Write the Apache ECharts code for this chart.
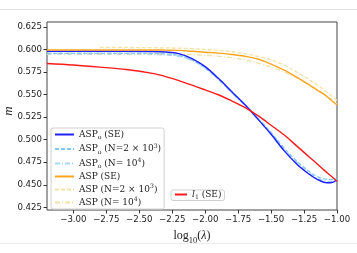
<!DOCTYPE html>
<html><head><meta charset="utf-8">
<script src="https://cdn.jsdelivr.net/npm/echarts@6/dist/echarts.min.js"></script>
<style>html,body{margin:0;padding:0;background:#fff}#c{width:357px;height:253px}</style>
</head><body><div id="c"></div>
<script>
const xs = [-3.2,-3.0,-2.8,-2.6,-2.4,-2.3,-2.2,-2.1,-2.0,-1.9,-1.8,-1.7,-1.6,-1.5,-1.4,-1.3,-1.2,-1.15,-1.1,-1.05,-1.0];
const aspoSE  = [0.598,0.598,0.598,0.598,0.5978,0.5972,0.5955,0.590,0.581,0.568,0.5535,0.539,0.5228,0.506,0.4876,0.4723,0.4605,0.456,0.4528,0.4522,0.455];
const aspo2e3 = [0.5958,0.5958,0.5958,0.5958,0.5955,0.595,0.5935,0.5885,0.5795,0.567,0.553,0.539,0.5235,0.508,0.4905,0.4755,0.4635,0.459,0.4565,0.4558,0.4565];
const aspo1e4 = [0.5953,0.5953,0.5953,0.5953,0.595,0.5945,0.593,0.5885,0.580,0.5675,0.553,0.5388,0.523,0.5065,0.4885,0.4732,0.4613,0.4568,0.4535,0.453,0.456];
const aspSE   = [0.5995,0.5995,0.5995,0.5995,0.5995,0.5993,0.599,0.598,0.597,0.596,0.5945,0.5925,0.5895,0.5838,0.577,0.5688,0.5597,0.555,0.5505,0.5445,0.5384];
const asp2e3  = [null,null,0.6022,0.6022,0.602,0.6018,0.6015,0.601,0.6002,0.599,0.5975,0.5955,0.5925,0.5885,0.5825,0.5745,0.5655,0.5605,0.5555,0.5495,0.5435];
const asp1e4  = [0.5952,0.5952,0.5952,0.5952,0.5952,0.5951,0.595,0.5943,0.5935,0.5925,0.591,0.5885,0.585,0.5805,0.575,0.568,0.560,0.5555,0.551,0.5455,0.540];
const l1SE    = [0.5845,0.5828,0.5805,0.5778,0.5735,0.570,0.5655,0.5605,0.5552,0.5498,0.5431,0.5358,0.5266,0.516,0.5051,0.4923,0.4795,0.473,0.4665,0.4602,0.4538];
const xTicks = [-3.0,-2.75,-2.5,-2.25,-2.0,-1.75,-1.5,-1.25,-1.0];
const yTicks = [0.425,0.45,0.475,0.5,0.525,0.55,0.575,0.6,0.625];

const pts = a => xs.map((x,i)=>[x,a[i]]).filter(p=>p[1]!==null);
const SER = 'DejaVu Serif';
const LH = 12;
const rich = {
  n:{fontFamily:SER,fontSize:9,color:'#222',lineHeight:LH},
  i:{fontFamily:SER,fontStyle:'italic',fontSize:9,color:'#222',lineHeight:LH},
  sub:{fontFamily:SER,fontSize:6.2,color:'#222',verticalAlign:'bottom',lineHeight:LH},
  sup:{fontFamily:SER,fontSize:6.2,color:'#222',verticalAlign:'top',lineHeight:LH}
};
const labels = {
  'ASPo (SE)':'{n|ASP}{sub|o}{n| (SE)}',
  'ASPo (N=2e3)':'{n|ASP}{sub|o}{n| (N=2 × 10}{sup|3}{n|)}',
  'ASPo (N=1e4)':'{n|ASP}{sub|o}{n| (N= 10}{sup|4}{n|)}',
  'ASP (SE)':'{n|ASP (SE)}',
  'ASP (N=2e3)':'{n|ASP (N=2 × 10}{sup|3}{n|)}',
  'ASP (N=1e4)':'{n|ASP (N= 10}{sup|4}{n|)}',
  'l1 (SE)':'{i|l}{sub|1}{n| (SE)}'
};
function line(name,data,color,width,type,z){
  return {name,type:'line',data:pts(data),smooth:0.35,symbol:'none',z:z,
    lineStyle:{color,width,type},itemStyle:{color}};
}
const legendCommon = {
  orient:'vertical',itemWidth:19,itemHeight:9,
  backgroundColor:'rgba(255,255,255,0.85)',borderColor:'#d0d0d0',borderWidth:1,borderRadius:2,
  formatter:n=>labels[n],textStyle:{rich},
  itemStyle:{opacity:0,borderWidth:0}
};
const chart = echarts.init(document.getElementById('c'),null,{renderer:'canvas'});
chart.setOption({
  animation:false,
  grid:{left:47,top:22,right:20,bottom:43,containLabel:false,outerBoundsMode:'none',show:true,borderColor:'#444',borderWidth:1,backgroundColor:'transparent'},
  xAxis:{type:'value',min:-3.2,max:-1.0,
    axisLine:{show:false},splitLine:{show:false},
    axisTick:{customValues:xTicks,length:3.5,lineStyle:{color:'#333'}},
    axisLabel:{customValues:xTicks,fontFamily:'DejaVu Sans',fontSize:8.6,color:'#222',margin:5,
      formatter:v=>(v<0?'\u2212':'')+Math.abs(v).toFixed(2)},
    name:'{n|log}{s|10}{n|(}{i|λ}{n|)}',nameLocation:'middle',nameGap:20,
    nameTextStyle:{rich:{n:{fontFamily:'Liberation Serif',fontSize:12,color:'#222'},i:{fontFamily:'Liberation Serif',fontStyle:'italic',fontSize:12,color:'#222'},s:{fontFamily:'Liberation Serif',fontSize:8.5,color:'#222',verticalAlign:'bottom',padding:[0,0,-3,0]}}}
  },
  yAxis:{type:'value',min:0.422,max:0.6305,
    axisLine:{show:false},splitLine:{show:false},
    axisTick:{customValues:yTicks,length:3.5,lineStyle:{color:'#333'}},
    axisLabel:{customValues:yTicks,fontFamily:'DejaVu Sans',fontSize:8.6,color:'#222',margin:5,
      formatter:v=>v.toFixed(3)}
  },
  legend:[Object.assign({},legendCommon,{
    left:51,top:128,padding:[2,3,2,3],itemGap:2.5,
    data:['ASPo (SE)','ASPo (N=2e3)','ASPo (N=1e4)','ASP (SE)','ASP (N=2e3)','ASP (N=1e4)']
  }),Object.assign({},legendCommon,{
    left:171,top:190,padding:[0,3,0,3],itemWidth:12,
    data:['l1 (SE)']
  })],
  series:[
    line('ASPo (N=1e4)',aspo1e4,'#a6d6f5',2.4,[5,2,1,2],2),
    line('ASPo (N=2e3)',aspo2e3,'#86c8f7',1.3,[4,2],3),
    line('ASP (N=2e3)',asp2e3,'#f2e2a4',1.3,[4,2],2),
    line('ASP (N=1e4)',asp1e4,'#efe2a8',1.3,[5,2,1,2],2),
    line('ASPo (SE)',aspoSE,'#2020ff',1.4,'solid',5),
    line('ASP (SE)',aspSE,'#ffa51e',1.4,'solid',5),
    line('l1 (SE)',l1SE,'#ff1a1a',1.4,'solid',5)
  ],
  graphic:[
    {type:'line',shape:{x1:0,y1:9.5,x2:357,y2:9.5},style:{stroke:'#e2e2e2',lineWidth:1},silent:true},
    {type:'line',shape:{x1:0,y1:243.5,x2:357,y2:243.5},style:{stroke:'#ececec',lineWidth:1},silent:true},
    {type:'text',x:9,y:111,rotation:Math.PI/2,silent:true,
      style:{text:'m',font:'italic 13px "Liberation Serif"',fill:'#222',align:'center',verticalAlign:'middle'}}
  ]
});
</script></body></html>
